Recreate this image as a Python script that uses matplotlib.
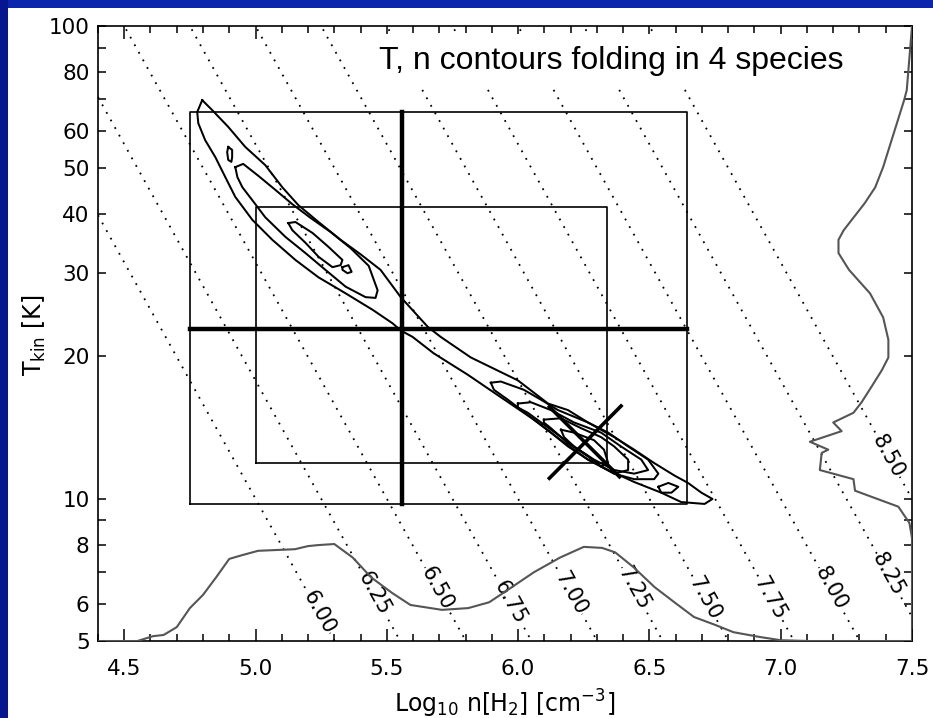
import numpy as np
import matplotlib.pyplot as plt
from matplotlib.patches import Rectangle
from matplotlib.ticker import FixedLocator, FixedFormatter

plt.rcParams['font.family'] = 'DejaVu Sans'
plt.rcParams['mathtext.default'] = 'regular'

# isobars: log10(n T) levels and where their labels sit (log n)
p_levels = [6.00, 6.25, 6.50, 6.75, 7.00, 7.25, 7.50, 7.75, 8.00, 8.25, 8.50]
p_label_x = [5.24, 5.45, 5.69, 5.97, 6.20, 6.44, 6.71, 6.96, 7.19, 7.41, 7.41]

# marginal distribution of log n (drawn along the bottom)
marg_n_x = [4.40, 4.55, 4.61, 4.65, 4.70, 4.75, 4.80, 4.85, 4.90, 4.95, 5.01, 5.15,
            5.20, 5.24, 5.30, 5.37, 5.44, 5.52, 5.59, 5.71, 5.81, 5.89, 5.96, 6.06,
            6.16, 6.25, 6.32, 6.37, 6.44, 6.52, 6.60, 6.67, 6.75, 6.82, 6.92, 7.00,
            7.11, 7.50]
marg_n_t = [5.0, 5.0, 5.12, 5.15, 5.35, 5.87, 6.26, 6.82, 7.46, 7.60, 7.76, 7.82,
            7.94, 7.98, 8.02, 7.51, 6.82, 6.32, 5.96, 5.82, 5.87, 6.04, 6.41, 6.99,
            7.51, 7.91, 7.87, 7.70, 7.16, 6.50, 6.01, 5.62, 5.41, 5.22, 5.10, 5.02,
            5.0, 5.0]

# marginal distribution of T (drawn along the right side)
marg_t_x = [7.50, 7.48, 7.47, 7.39, 7.36, 7.32, 7.24, 7.22, 7.22, 7.26, 7.34, 7.39,
            7.41, 7.41, 7.385, 7.347, 7.308, 7.277, 7.200, 7.232, 7.111, 7.181,
            7.156, 7.149, 7.277, 7.283, 7.448, 7.474, 7.49, 7.50, 7.50]
marg_t_t = [100, 73.2, 69.7, 50.3, 45.6, 42.2, 37.0, 35.3, 33.1, 30.5, 27.2, 24.2,
            21.7, 19.9, 18.7, 17.3, 16.0, 15.2, 14.5, 13.9, 13.2, 12.7,
            12.5, 11.5, 11.0, 10.4, 9.62, 9.16, 8.89, 8.26, 5.0]

# likelihood contours (log n, T)
outer_x = [4.797, 4.835, 4.896, 4.961, 5.037, 5.102, 5.163, 5.240, 5.324, 5.400,
           5.476, 5.553, 5.656, 5.705, 5.820, 5.999, 6.114, 6.190, 6.266, 6.366,
           6.442, 6.518, 6.595, 6.647, 6.698, 6.740,
           6.710, 6.621, 6.545, 6.442, 6.343, 6.266, 6.190, 6.125, 6.060, 5.934,
           5.808, 5.679, 5.598, 5.553, 5.522, 5.446, 5.343, 5.240, 5.152, 5.064,
           4.988, 4.923, 4.885, 4.847, 4.808, 4.782, 4.778, 4.797]
outer_t = [69.7, 66.4, 61.2, 55.5, 50.8, 45.6, 41.8, 38.5, 35.3, 32.9,
           30.5, 26.7, 23.1, 22.0, 19.9, 17.8, 15.9, 15.4, 14.5, 13.5,
           12.7, 11.9, 11.2, 10.8, 10.3, 9.99,
           9.75, 9.84, 10.3, 10.85, 11.5, 12.1, 12.9, 13.8, 14.7, 16.4,
           18.3, 20.3, 22.0, 22.7, 23.5, 25.1, 27.2, 29.4, 32.0, 35.3,
           38.9, 43.5, 47.9, 52.8, 57.4, 62.3, 65.8, 69.7]

lobe2_x = [4.923, 4.953, 5.011, 5.076, 5.140, 5.209, 5.285, 5.362, 5.431, 5.465,
           5.457, 5.419, 5.343, 5.266, 5.190, 5.114, 5.037, 4.988, 4.950, 4.931, 4.923]
lobe2_t = [50.3, 51.1, 48.2, 45.0, 42.0, 39.3, 36.7, 33.9, 31.1, 27.6,
           26.6, 26.7, 28.1, 30.5, 33.1, 35.8, 39.4, 42.8, 45.6, 47.9, 50.3]

lobe3_x = [5.125, 5.152, 5.217, 5.278, 5.331, 5.324, 5.293, 5.240, 5.190, 5.140, 5.125]
lobe3_t = [38.3, 38.5, 36.5, 34.1, 32.0, 31.2, 30.9, 32.5, 34.8, 37.0, 38.3]

isle1_x = [4.896, 4.911, 4.911, 4.908, 4.896, 4.892, 4.896]
isle1_t = [55.5, 54.7, 52.8, 51.6, 52.1, 54.1, 55.5]

isle2_x = [5.331, 5.354, 5.366, 5.350, 5.331, 5.331]
isle2_t = [30.9, 31.2, 30.2, 30.0, 30.5, 30.9]

cA_x = [5.896, 5.934, 6.022, 6.087, 6.152, 6.266, 6.343, 6.419, 6.495, 6.534,
        6.518, 6.442, 6.366, 6.266, 6.163, 6.060, 5.961, 5.908, 5.896]
cA_t = [17.6, 17.7, 17.0, 16.2, 15.4, 14.5, 13.8, 12.9, 12.1, 11.3,
        11.0, 11.0, 11.3, 12.1, 13.3, 14.7, 16.2, 17.0, 17.6]

cB_x = [5.999, 6.049, 6.125, 6.213, 6.316, 6.392, 6.469, 6.495, 6.442, 6.366,
        6.289, 6.213, 6.125, 6.037, 5.999, 5.999]
cB_t = [15.9, 16.0, 15.4, 14.5, 13.8, 12.9, 12.1, 11.5, 11.3, 11.5,
        12.1, 12.9, 14.0, 15.2, 15.6, 15.9]

cC_x = [6.098, 6.163, 6.240, 6.316, 6.366, 6.419, 6.419, 6.366, 6.316, 6.266,
        6.190, 6.125, 6.098, 6.098]
cC_t = [14.7, 14.8, 14.1, 13.5, 12.9, 12.1, 11.5, 11.3, 11.7, 12.3,
        13.1, 14.1, 14.5, 14.7]

cD_x = [6.163, 6.213, 6.289, 6.327, 6.343, 6.316, 6.266, 6.213, 6.175, 6.163]
cD_t = [14.0, 13.8, 13.3, 12.7, 11.9, 11.7, 12.3, 12.9, 13.5, 14.0]

cE_x = [6.534, 6.572, 6.610, 6.584, 6.545, 6.534]
cE_t = [10.6, 10.8, 10.6, 10.3, 10.3, 10.6]

contours = [(outer_x, outer_t), (lobe2_x, lobe2_t), (lobe3_x, lobe3_t),
            (isle1_x, isle1_t), (isle2_x, isle2_t), (cA_x, cA_t), (cB_x, cB_t),
            (cC_x, cC_t), (cD_x, cD_t), (cE_x, cE_t)]

# prior boxes (log n range, T range) and best fit
box_outer_n = [4.75, 6.645]
box_outer_t = [9.75, 65.8]
box_inner_n = [5.0, 6.34]
box_inner_t = [11.9, 41.4]
best_n, best_t = 5.557, 22.9
# tilted error cross: two segments
tilt1_x, tilt1_t = [6.119, 6.392], [11.05, 15.71]
tilt2_x, tilt2_t = [6.119, 6.386], [15.65, 11.13]

fig = plt.figure(figsize=(9.33, 7.18), dpi=100, facecolor='white')
fig.patches.append(Rectangle((0, 1 - 8 / 718), 1, 8 / 718, transform=fig.transFigure,
                             facecolor='#0b25ad', edgecolor='none'))
fig.patches.append(Rectangle((0, 0), 8 / 933, 1, transform=fig.transFigure,
                             facecolor='#06168e', edgecolor='none'))

ax = fig.add_axes([0.1050, 0.1072, 0.8725, 0.8565])
ax.set_yscale('log')
ax.set_xlim(4.4, 7.5)
ax.set_ylim(5, 100)

# isobars
xs = np.linspace(4.4, 7.5, 300)
for p, lx in zip(p_levels, p_label_x):
    ax.plot(xs, 10 ** (p - xs), color='black', lw=1.3, ls=(0, (1, 3.8)), zorder=1)
    ax.text(lx, 10 ** (p - lx), '%.2f' % p, rotation=-61, rotation_mode='anchor',
            ha='center', va='center', fontsize=15, zorder=2,
            bbox=dict(facecolor='white', edgecolor='none', pad=0.3))

# title box covers the isobars under it
ax.add_patch(Rectangle((0.328, 0.899), 0.633, 0.088, transform=ax.transAxes,
                       facecolor='white', edgecolor='none', zorder=2.5))
ax.text(0.345, 0.930, 'T, n contours folding in 4 species', transform=ax.transAxes,
        fontsize=23, family='Liberation Sans', ha='left', va='baseline', zorder=3)

# marginals
ax.plot(marg_n_x, marg_n_t, color='#555555', lw=1.5, zorder=3)
ax.plot(marg_t_x, marg_t_t, color='#555555', lw=1.5, zorder=3)

# contours
for cx, ct in contours:
    ax.plot(cx, ct, color='black', lw=1.45, zorder=4)

# boxes
for bn, bt in [(box_outer_n, box_outer_t), (box_inner_n, box_inner_t)]:
    ax.plot([bn[0], bn[1], bn[1], bn[0], bn[0]], [bt[0], bt[0], bt[1], bt[1], bt[0]],
            color='black', lw=1.2, zorder=4)

ax.plot([best_n, best_n], box_outer_t, color='black', lw=3.2, zorder=5)
ax.plot(box_outer_n, [best_t, best_t], color='black', lw=3.2, zorder=5)
ax.plot(tilt1_x, tilt1_t, color='black', lw=2.6, zorder=5)
ax.plot(tilt2_x, tilt2_t, color='black', lw=2.6, zorder=5)

# axes and ticks
x_major = [4.5, 5.0, 5.5, 6.0, 6.5, 7.0, 7.5]
ax.xaxis.set_major_locator(FixedLocator(x_major))
ax.xaxis.set_major_formatter(FixedFormatter(['%.1f' % v for v in x_major]))
ax.xaxis.set_minor_locator(FixedLocator(np.arange(4.4, 7.51, 0.1)))
y_major = [5, 6, 8, 10, 20, 30, 40, 50, 60, 80, 100]
ax.yaxis.set_major_locator(FixedLocator(y_major))
ax.yaxis.set_major_formatter(FixedFormatter([str(v) for v in y_major]))
ax.yaxis.set_minor_locator(FixedLocator([7, 9, 70, 90]))
ax.yaxis.set_minor_formatter(FixedFormatter(['', '', '', '']))

ax.tick_params(which='both', direction='in', top=True, right=True, width=1.1,
               colors='black', labelsize=15.5)
ax.tick_params(axis='x', which='major', length=9, pad=13)
ax.tick_params(axis='x', which='minor', length=5)
ax.tick_params(axis='y', which='both', length=5.5, pad=6)
for t in ax.yaxis.get_major_ticks():
    if t.get_loc() == 10:
        t.tick1line.set_markersize(11)
        t.tick2line.set_markersize(11)
for s in ax.spines.values():
    s.set_linewidth(1.2)

ax.set_xlabel('Log$_{10}$ n[H$_2$] [cm$^{-3}$]', fontsize=17, labelpad=6)
fig.text(34 / 933, 1 - 335 / 718, 'T$_{kin}$ [K]', rotation=90, fontsize=17,
         ha='center', va='center')

fig.savefig('out.png', dpi=100, facecolor='white')
